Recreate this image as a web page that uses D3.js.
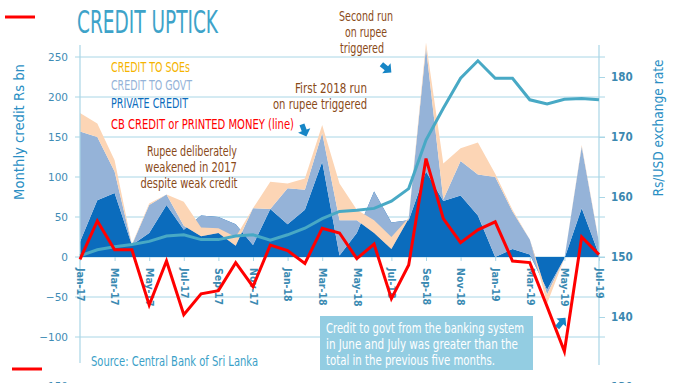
<!DOCTYPE html>
<html>
<head>
<meta charset="utf-8">
<script src="https://cdn.jsdelivr.net/npm/d3@7"></script>
<style>
  body { margin: 0; background: #ffffff; }
  svg text { font-family: "Liberation Sans Narrow", "DejaVu Sans Condensed", sans-serif; }
</style>
</head>
<body>
<div id="chart"></div>
<script>
//========================================================
// Credit uptick - stacked monthly credit + CB credit + Rs/USD
//========================================================

var months = ["Jan-17", "Feb-17", "Mar-17", "Apr-17", "May-17", "Jun-17", "Jul-17", "Aug-17",
  "Sep-17", "Oct-17", "Nov-17", "Dec-17", "Jan-18", "Feb-18", "Mar-18", "Apr-18", "May-18",
  "Jun-18", "Jul-18", "Aug-18", "Sep-18", "Oct-18", "Nov-18", "Dec-18", "Jan-19", "Feb-19",
  "Mar-19", "Apr-19", "May-19", "Jun-19", "Jul-19"];

// Rs bn, stacked in this order (private, govt, SOEs)
var privateCredit = [19, 71, 80, 15, 30, 65, 34, 52, 50, 41, 15, 60, 41, 59, 119, 2, 30, 82, 43, 46,
  107, 70, 77, 52, 0, 10, 3, -41, -2, 61, 3];
var govtCredit = [138, 79, 27, 0, 35, 13, 5, -26, -20, -27, 46, 0, 45, 25, 36, 44, 16, -52, -33, 2,
  155, 2, 43, 51, 100, 47, 19, -6, 0, 77, 15];
var soeCredit = [23, 17, 14, 1, 2, 0, 30, 11, 6, 11, 0, 34, 6, 14, 10, 46, 13, 16, 15, 1,
  6, 45, 16, 40, 4, 2, 0, -11, 0, 2, 1];

// CB credit or printed money (red line), Rs bn
var cbCredit = [-3, 45, 9, 9, -60, -5, -72, -46, -42, -7, -37, 15, 8, -8, 36, 30, -2, 16, -52, -10,
  123, 48, 18, 34, 44, -5, -7, -62, -118, 25, 3];

// Rs/USD exchange rate (right axis)
var exchangeRate = [150.2, 151.2, 151.7, 152.1, 152.6, 153.5, 153.7, 152.9, 152.9, 153.5, 153.7,
  152.8, 153.7, 154.8, 156.4, 157.6, 157.8, 158.1, 159.3, 161.4, 169.5, 174.8, 179.8, 182.7,
  179.8, 179.8, 176.2, 175.5, 176.3, 176.4, 176.2];

var leftTicks = [-150, -100, -50, 0, 50, 100, 150, 200, 250];
var rightTicks = [130, 140, 150, 160, 170, 180];
var labelMonths = months.filter(function(d, i) { return i % 2 === 0; });

var svgWidth = 680;
var svgHeight = 383;
var gridColor = "#a9d6e6";

var svg = d3.select("#chart")
  .append("svg")
  .attr("width", svgWidth)
  .attr("height", svgHeight);

// scales
var xScale = d3.scalePoint().domain(months).range([80, 599]);
var yLeft = d3.scaleLinear().domain([-150, 250]).range([377, 57]);
var yRight = d3.scaleLinear().domain([130, 180]).range([377, 77]);

// stacked rows, Excel style (each band from previous running total to the next)
var rows = months.map(function(m, i) {
  var p = privateCredit[i];
  var pg = p + govtCredit[i];
  return { month: m, p: p, pg: pg, pgs: pg + soeCredit[i], cb: cbCredit[i], fx: exchangeRate[i] };
});

// gridlines
svg.append("g")
  .selectAll("line")
  .data(leftTicks.filter(function(d) { return d > -150; }))
  .enter()
  .append("line")
  .attr("x1", 75)
  .attr("x2", 605)
  .attr("y1", d => yLeft(d))
  .attr("y2", d => yLeft(d))
  .attr("stroke", gridColor)
  .attr("stroke-width", 1);

// stacked areas
function band(lo, hi) {
  return d3.area()
    .x(d => xScale(d.month))
    .y0(d => yLeft(lo(d)))
    .y1(d => yLeft(hi(d)));
}

svg.append("path").datum(rows)
  .attr("d", band(d => 0, d => d.p))
  .attr("fill", "#0b6cbd");

svg.append("path").datum(rows)
  .attr("d", band(d => d.p, d => d.pg))
  .attr("fill", "#95b3d8");

svg.append("path").datum(rows)
  .attr("d", band(d => d.pg, d => d.pgs))
  .attr("fill", "#fcd5b5");

// axis lines
svg.append("line").attr("x1", 80).attr("x2", 80).attr("y1", 45).attr("y2", 363)
  .attr("stroke", gridColor).attr("stroke-width", 1.2);
svg.append("line").attr("x1", 599).attr("x2", 599).attr("y1", 45).attr("y2", 365)
  .attr("stroke", gridColor).attr("stroke-width", 1.2);

// left axis labels
var leftAxis = svg.append("g")
  .attr("transform", "translate(80,0)")
  .call(d3.axisLeft(yLeft).tickValues(leftTicks).tickSize(0).tickPadding(12));
leftAxis.select(".domain").remove();
leftAxis.selectAll("text")
  .style("font-family", "DejaVu Sans, sans-serif")
  .style("font-size", "10.5px")
  .attr("fill", "#3f8cb5");

// right axis
var rightAxis = svg.append("g")
  .attr("transform", "translate(599,0)")
  .call(d3.axisRight(yRight).tickValues(rightTicks).tickSize(6).tickPadding(6));
rightAxis.select(".domain").remove();
rightAxis.selectAll("line").attr("stroke", gridColor);
rightAxis.selectAll("text")
  .style("font-family", "DejaVu Sans Condensed, sans-serif")
  .style("font-size", "11.5px")
  .style("font-weight", "bold")
  .attr("fill", "#3b88b0");

// the lowest labels sit below the crop in the original
leftAxis.selectAll(".tick").filter(d => d === -150).select("text").attr("dy", "1.2em");
rightAxis.selectAll(".tick").filter(d => d === 130).select("text").attr("dy", "1.2em");
rightAxis.selectAll(".tick").filter(d => d === 130).select("line").remove();

// bottom (month) axis on the zero line
var bottomAxis = svg.append("g")
  .attr("transform", `translate(0, ${yLeft(0)})`)
  .call(d3.axisBottom(xScale).tickValues(labelMonths).tickSize(4));
bottomAxis.select(".domain").remove();
bottomAxis.selectAll("line").attr("stroke", gridColor);
bottomAxis.selectAll("text")
  .attr("transform", "rotate(90)")
  .attr("x", 11)
  .attr("y", 0)
  .attr("dy", "0.35em")
  .style("text-anchor", "start")
  .style("font-family", "DejaVu Sans Condensed, sans-serif")
  .style("font-size", "10.5px")
  .style("font-weight", "bold")
  .attr("fill", "#3b8ab2");

// exchange rate line
svg.append("path").datum(rows)
  .attr("d", d3.line().x(d => xScale(d.month)).y(d => yRight(d.fx)))
  .attr("fill", "none")
  .attr("stroke", "#48a9c5")
  .attr("stroke-width", 3);

// CB credit line
svg.append("path").datum(rows)
  .attr("d", d3.line().x(d => xScale(d.month)).y(d => yLeft(d.cb)))
  .attr("fill", "none")
  .attr("stroke", "#ff0000")
  .attr("stroke-width", 3)
  .attr("stroke-linejoin", "miter");

// stray red legend keys
svg.append("line").attr("x1", 5).attr("x2", 35).attr("y1", 17).attr("y2", 17)
  .attr("stroke", "#ff0000").attr("stroke-width", 3);
svg.append("line").attr("x1", 12).attr("x2", 42).attr("y1", 369).attr("y2", 369)
  .attr("stroke", "#ff0000").attr("stroke-width", 3);

// text helper: fixed width so the condensed look holds
function label(x, y, txt, size, color, width, anchor) {
  var t = svg.append("text")
    .attr("x", x)
    .attr("y", y)
    .attr("font-size", size)
    .attr("fill", color)
    .attr("text-anchor", anchor || "start")
    .text(txt);
  if (width) {
    t.attr("textLength", width).attr("lengthAdjust", "spacingAndGlyphs");
  }
  return t;
}

// title
label(77, 33, "CREDIT UPTICK", 32, "#3ea3c9", 141);

// legend
label(111, 72, "CREDIT TO SOEs", 14.5, "#f5b400", 79);
label(111, 90, "CREDIT TO GOVT", 14.5, "#95b3d8", 81);
label(111, 108, "PRIVATE CREDIT", 14.5, "#0b6cbd", 77);
label(111, 129, "CB CREDIT or PRINTED MONEY (line)", 14.5, "#ff0000", 183);

// annotations
var brown = "#8a4a18";
label(192, 156, "Rupee deliberately", 14.5, brown, 90, "middle");
label(191, 172, "weakened in 2017", 14.5, brown, 92, "middle");
label(189, 188, "despite weak credit", 14.5, brown, 97, "middle");

label(331, 93, "First 2018 run", 14.5, brown, 72, "middle");
label(320, 109, "on rupee triggered", 14.5, brown, 94, "middle");

label(366, 21, "Second run", 14.5, brown, 54, "middle");
label(366, 37, "on rupee", 14.5, brown, 42, "middle");
label(362, 53, "triggered", 14.5, brown, 44, "middle");

// arrows
function arrow(x, y, angle) {
  svg.append("path")
    .attr("d", "M-6,-2.6 L0.5,-2.6 L0.5,-6.5 L7,0 L0.5,6.5 L0.5,2.6 L-6,2.6 Z")
    .attr("transform", `translate(${x},${y}) rotate(${angle})`)
    .attr("fill", "#1786c6");
}
arrow(304, 130, 70);
arrow(386, 68, 40);
arrow(561, 323, -50);

// callout box
svg.append("rect")
  .attr("x", 320)
  .attr("y", 316)
  .attr("width", 213)
  .attr("height", 54)
  .attr("fill", "#93cde2");
label(326, 333, "Credit to govt from the banking system", 13.5, "#ffffff", 198);
label(326, 349, "in June and July was greater than the", 13.5, "#ffffff", 192);
label(326, 365, "total in the previous five months.", 13.5, "#ffffff", 169);

// source
label(91, 366, "Source: Central Bank of Sri Lanka", 14, "#3a9fc8", 167);

// axis titles
svg.append("text")
  .attr("transform", "translate(24,132) rotate(-90)")
  .attr("text-anchor", "middle")
  .attr("font-size", 14.5)
  .attr("fill", "#2b8fc4")
  .attr("textLength", 136)
  .attr("lengthAdjust", "spacingAndGlyphs")
  .text("Monthly credit Rs bn");

svg.append("text")
  .attr("transform", "translate(663,128) rotate(-90)")
  .attr("text-anchor", "middle")
  .attr("font-size", 14.5)
  .attr("fill", "#2b8fc4")
  .attr("textLength", 137)
  .attr("lengthAdjust", "spacingAndGlyphs")
  .text("Rs/USD exchange rate");
</script>
</body>
</html>
